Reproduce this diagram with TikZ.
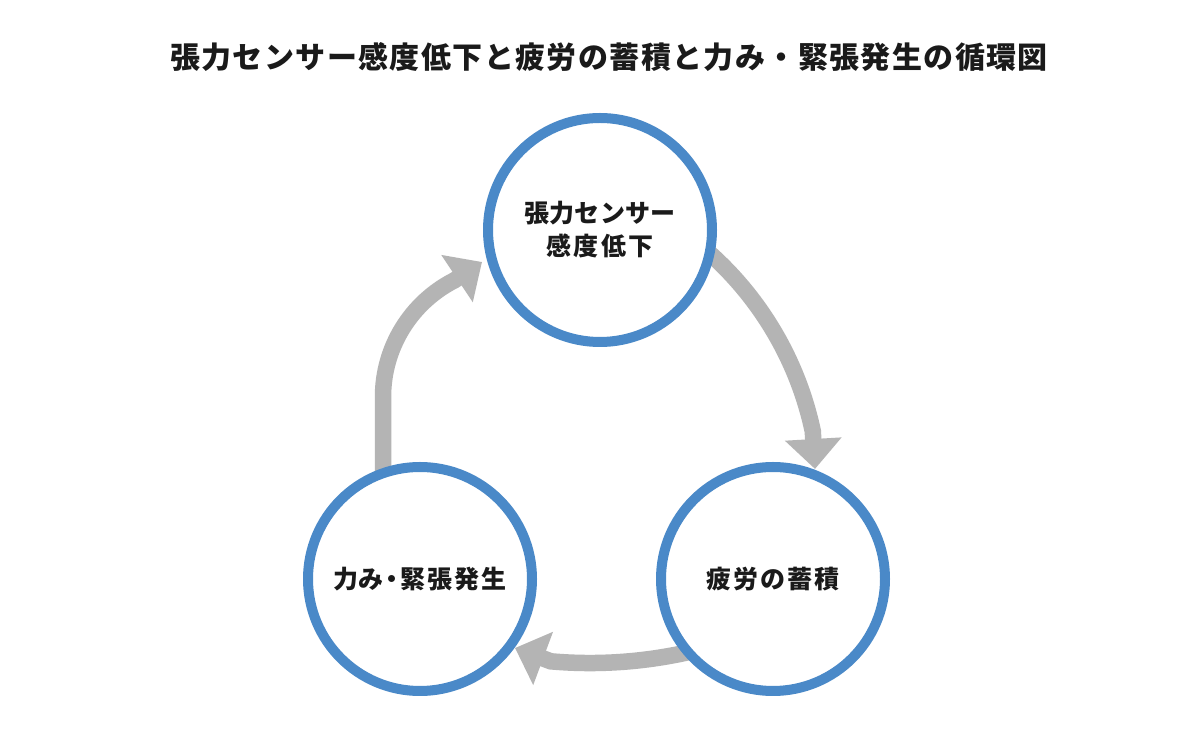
\documentclass[tikz,border=0pt]{standalone}
\usepackage{fontspec}
\setmainfont{Noto Sans CJK JP}
\usetikzlibrary{arrows.meta,calc,backgrounds}
\definecolor{ringblue}{HTML}{4A89C8}
\definecolor{arrowgray}{HTML}{B4B4B4}
\definecolor{ink}{HTML}{1A1A1A}
\makeatletter
\newcommand\trk[2]{\def\trk@k{\kern#1}\trk@first#2\@nil}
\def\trk@first#1{#1\trk@loop}
\def\trk@loop#1{\ifx#1\@nil\else\trk@k#1\expandafter\trk@loop\fi}
\makeatother
\begin{document}
\begin{tikzpicture}[x=1pt,y=1pt,
  ring/.style={circle, draw=ringblue, line width=10pt, fill=white,
    minimum size=224pt, inner sep=0pt, text=ink, align=center,
    font=\fontsize{25}{33}\selectfont\bfseries},
  cyc/.style={draw=arrowgray, line width=16.5pt,
    -{Triangle[length=30pt,width=55pt]}, arrowgray}
]
\useasboundingbox (0,0) rectangle (1200,741);
\node[text=ink, font=\fontsize{30}{36}\selectfont\bfseries] (title) at (609,684)
  {\trk{1.4pt}{張力センサー感度低下と疲労の蓄積と力み・緊張発生の循環図}};
\node[ring] (top) at (600,511) {\trk{0.3pt}{張力センサー}\\\trk{2.5pt}{感度低下}};
\node[ring] (bl) at (420,162) {力み\kern-4pt・\kern-4pt\trk{2.3pt}{緊張発生}};
\node[ring] (br) at (773,162) {\trk{2pt}{疲労の蓄積}};
\begin{scope}[on background layer]
  \fill[white] (0,0) rectangle (1200,741);
  \coordinate (s1) at ($(bl)+(-37,88)$);
  \coordinate (t1) at ($(top)+(-118,-32)$);
  \coordinate (s2) at ($(top)+(92.8,-9.2)$);
  \coordinate (t2) at ($(br)+(42,110)$);
  \coordinate (s3) at ($(br)+(-68,-69.1)$);
  \coordinate (t3) at ($(bl)+(95,-69)$);
  \draw[cyc] (s1) -- ++(0,94) arc[start angle=180, end angle=117, radius=131] -- (t1);
  \draw[cyc] (s2) arc[start angle=52, end angle=12, radius=331] -- (t2);
  \draw[cyc] (s3) arc[start angle=284.8, end angle=265, radius=450] -- (t3);
\end{scope}
\end{tikzpicture}
\end{document}
